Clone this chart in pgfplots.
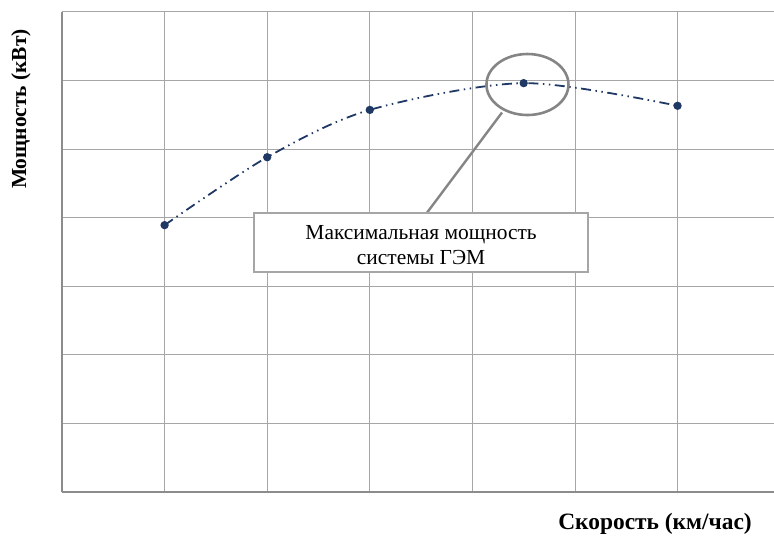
\documentclass[border=0pt]{standalone}
\usepackage{fontspec}
\setmainfont{Liberation Serif}
\usepackage{pgfplots}
\pgfplotsset{compat=1.18}
\definecolor{linecol}{HTML}{1F3864}
\definecolor{gridcol}{HTML}{A6A6A6}
\definecolor{framecol}{HTML}{8C8C8C}
\definecolor{notecol}{HTML}{858585}
\begin{document}
\begin{tikzpicture}
\useasboundingbox (0,0) rectangle (774bp,536bp);
\begin{axis}[
  at={(62bp,44bp)}, anchor=south west,
  width=712bp, height=480.2bp, scale only axis,
  xmin=0, xmax=6.94, ymin=0, ymax=7,
  xtick={1,...,6}, ytick={1,...,7},
  xticklabels={}, yticklabels={},
  major tick length=0pt,
  grid=major,
  grid style={gridcol, line width=0.9bp},
  axis x line*=bottom, axis y line*=left,
  axis line style={framecol, line width=1.8bp, -},
  clip=false,
]
\addplot[linecol, line width=1.8bp, smooth,
  dash pattern=on 10bp off 4.5bp on 1.5bp off 4.5bp on 1.5bp off 4.5bp,
  mark=*, mark size=3.2bp, mark options={solid, fill=linecol, draw=linecol}]
  coordinates {
  (1.0, 3.89)
  (2.0, 4.88)
  (3.0, 5.57)
  (4.5, 5.96)
  (6.0, 5.63)
};
% выноска
\draw[notecol, line width=2.6bp] (axis cs:4.537,5.94) ellipse [x radius=41bp, y radius=30.5bp];
\draw[notecol, line width=2.4bp] (axis cs:4.289,5.532) -- (axis cs:3.557,4.07);
\node[draw=gridcol, line width=1.8bp, fill=white, minimum width=334bp, minimum height=59bp,
  inner sep=0pt] at (axis cs:3.50,3.641) {};
\node[align=center, inner sep=0pt, font=\fontsize{21.5}{25}\selectfont, yshift=-3bp]
  at (axis cs:3.50,3.641) {Максимальная мощность\\системы ГЭМ};
\end{axis}
\node[font=\fontsize{23.5}{26}\selectfont\bfseries] at (655bp,12bp) {Скорость (км/час)};
\node[font=\fontsize{21.5}{24}\selectfont\bfseries, rotate=90] at (21bp,427bp) {Мощность (кВт)};
\end{tikzpicture}
\end{document}
